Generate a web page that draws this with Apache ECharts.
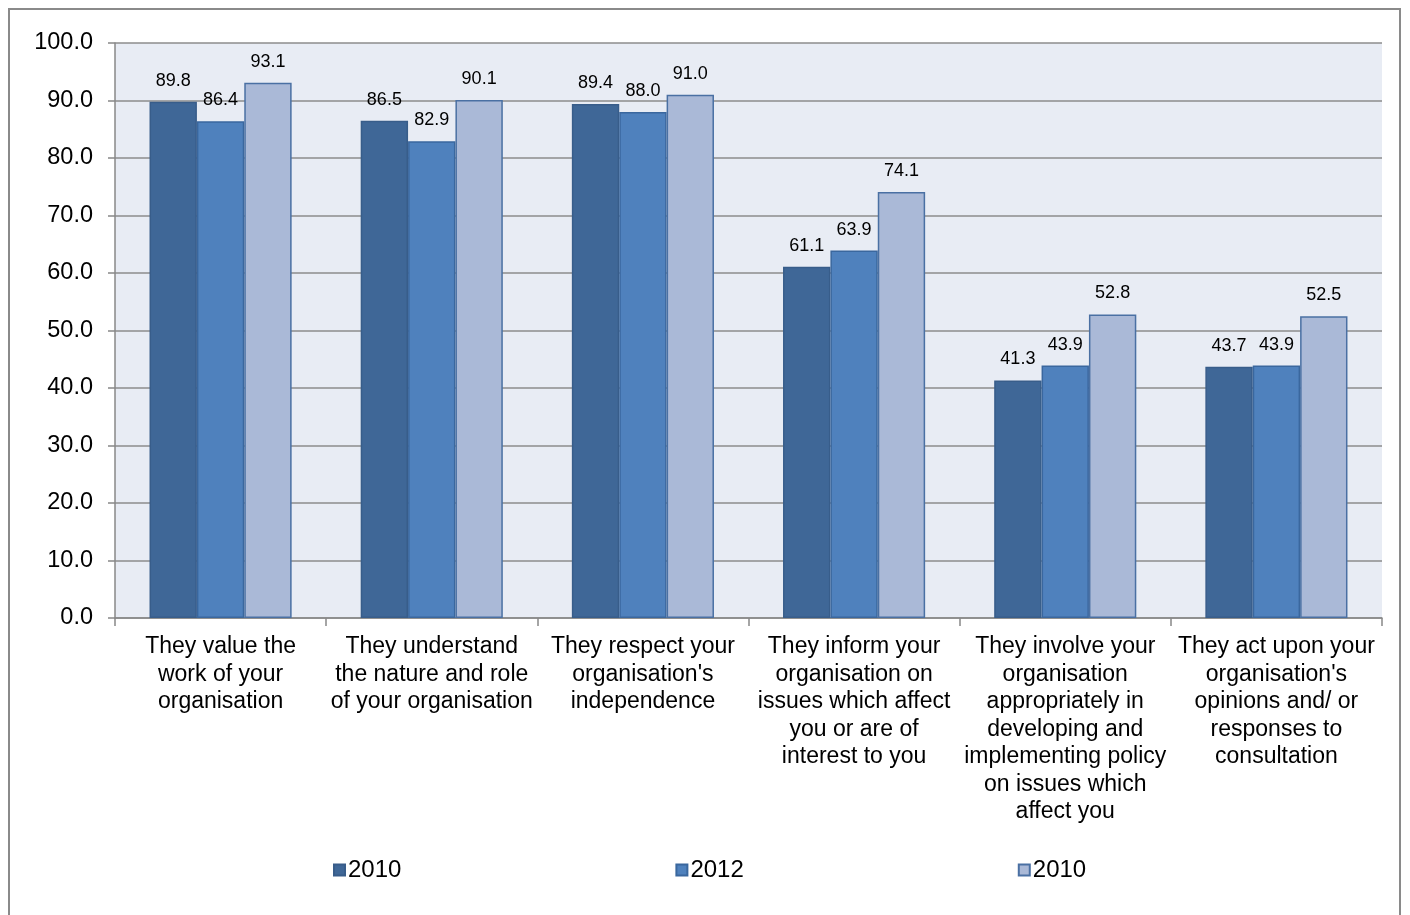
<!DOCTYPE html>
<html><head><meta charset="utf-8">
<script src="https://cdn.jsdelivr.net/npm/echarts@6/dist/echarts.min.js"></script>
<style>html,body{margin:0;padding:0;background:#fff}#c{width:1410px;height:915px}</style>
</head><body><div id="c"></div>
<script>
const categories = [
  "They value the\nwork of your\norganisation",
  "They understand\nthe nature and role\nof your organisation",
  "They respect your\norganisation's\nindependence",
  "They inform your\norganisation on\nissues which affect\nyou or are of\ninterest to you",
  "They involve your\norganisation\nappropriately in\ndeveloping and\nimplementing policy\non issues which\naffect you",
  "They act upon your\norganisation's\nopinions and/ or\nresponses to\nconsultation"
];
const seriesNames = ["2010", "2012", "2010 "];
const values2010a = [89.8, 86.5, 89.4, 61.1, 41.3, 43.7];
const values2012 = [86.4, 82.9, 88.0, 63.9, 43.9, 43.9];
const values2010b = [93.1, 90.1, 91.0, 74.1, 52.8, 52.5];
const yTicks = {min: 0, max: 100, interval: 10};

const fills = ["#3F6797", "#4F81BD", "#AAB9D7"];
const borders = ["#385D8A", "#3A679E", "#4A70A3"];
const allValues = [values2010a, values2012, values2010b];

const chart = echarts.init(document.getElementById('c'), null, {renderer: 'canvas'});
const font = "Liberation Sans, Arial, sans-serif";
chart.setOption({
  animation: false,
  textStyle: {fontFamily: font},
  graphic: [{
    type: 'rect', shape: {x: 9, y: 9, width: 1391, height: 920},
    style: {fill: 'none', stroke: '#8A8A8A', lineWidth: 2}, z: -1, silent: true
  }],
  grid: {left: 115, right: 28, top: 43, bottom: 297, containLabel: false,
    show: true, backgroundColor: '#E8ECF4', borderWidth: 0},
  legend: {
    bottom: 28, left: 328, itemWidth: 11, itemHeight: 11, itemGap: 274,
    data: seriesNames, icon: 'rect',
    formatter: n => n.trim(),
    textStyle: {fontSize: 24, color: '#000', fontFamily: font, padding: [0,0,0,-2]}
  },
  xAxis: {
    type: 'category', data: categories,
    axisLine: {show: true, lineStyle: {color: '#888', width: 1.5}},
    axisTick: {show: true, length: 8, lineStyle: {color: '#888', width: 1.5}},
    axisLabel: {interval: 0, fontSize: 23, color: '#000', lineHeight: 27.5, margin: 15, fontFamily: font}
  },
  yAxis: {
    type: 'value', min: yTicks.min, max: yTicks.max, interval: yTicks.interval,
    axisLine: {show: true, lineStyle: {color: '#888', width: 1.5}},
    axisTick: {show: true, length: 7, lineStyle: {color: '#888', width: 1.5}},
    splitLine: {lineStyle: {color: '#8C8C8C', width: 1.5}},
    axisLabel: {fontSize: 23.5, color: '#000', margin: 22, fontFamily: font, formatter: v => v.toFixed(1)}
  },
  series: seriesNames.map((name, i) => ({
    type: 'bar', name: name, data: allValues[i],
    barGap: '0%', barCategoryGap: '32.7%',
    itemStyle: {color: fills[i], borderColor: borders[i], borderWidth: 1.5},
    label: {show: true, position: 'top', distance: 12, fontSize: 18, color: '#000',
      fontFamily: font, formatter: p => p.value.toFixed(1)}
  }))
});
</script></body></html>
